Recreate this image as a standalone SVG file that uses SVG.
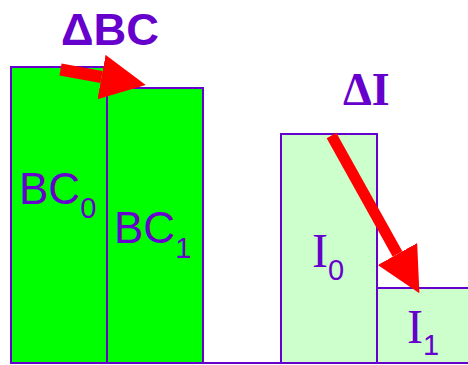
<svg xmlns="http://www.w3.org/2000/svg" width="468" height="365" viewBox="0 0 468 365">
<style>
.bc{fill:#00FF00;stroke:#6600CC;stroke-width:2}
.iv{fill:#CCFFCC;stroke:#6600CC;stroke-width:2}
.sans{font-family:"Liberation Sans",Arial,sans-serif;fill:#6600CC}
.serif{font-family:"Liberation Serif","Times New Roman",serif;fill:#6600CC}
.arr{stroke:#FF0000;fill:none}
</style>
<defs>
<marker id="head" markerUnits="userSpaceOnUse" markerWidth="46" markerHeight="46" refX="0" refY="22.5" orient="auto" viewBox="0 0 46 46">
<path d="M0,0 L45,22.5 L0,45 z" fill="#FF0000"/>
</marker>
</defs>
<rect width="468" height="365" fill="#FFFFFF"/>
<g id="bc0"><rect class="bc" x="11" y="67" width="96" height="296"/><text class="sans" x="19" y="204" font-size="44">BC<tspan font-size="29" dy="14">0</tspan></text></g>
<g id="bc1"><rect class="bc" x="107" y="88" width="96" height="275"/><text class="sans" x="114" y="243" font-size="44">BC<tspan font-size="29" dy="15">1</tspan></text></g>
<g id="i0"><rect class="iv" x="281" y="134" width="96" height="229"/><text class="serif" x="312" y="267" font-size="48">I<tspan class="sans" font-size="29" dy="13">0</tspan></text></g>
<g id="i1"><rect class="iv" x="377" y="288" width="93" height="75"/><text class="serif" x="407" y="343" font-size="48">I<tspan class="sans" font-size="29" dy="12">1</tspan></text></g>
<line x1="11" y1="363" x2="468" y2="363" stroke="#6600CC" stroke-width="2"/>
<g id="labels">
<text class="sans" x="61" y="45" font-size="45" font-weight="bold" textLength="98" lengthAdjust="spacingAndGlyphs">ΔBC</text>
<text class="serif" x="343" y="105" font-size="46" font-weight="bold">ΔI</text>
</g>
<g id="connectors">
<path class="arr" stroke-width="12" d="M60.5,69.5 L101.5,77" marker-end="url(#head)"/>
<path class="arr" stroke-width="11" d="M331.5,135.5 L397.5,254" marker-end="url(#head)"/>
</g>
</svg>
